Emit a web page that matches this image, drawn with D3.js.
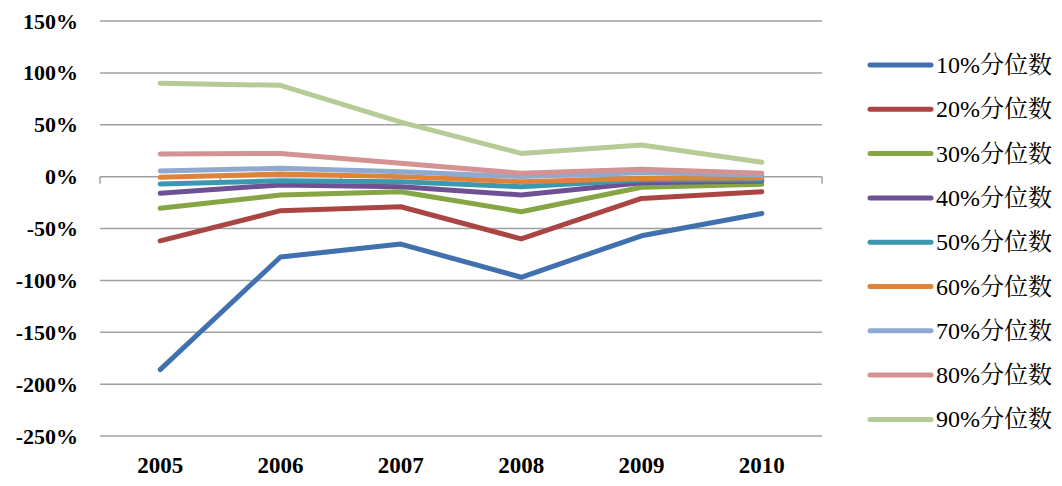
<!DOCTYPE html>
<html><head><meta charset="utf-8">
<script src="https://cdn.jsdelivr.net/npm/d3@7"></script>
<style>body{margin:0;background:#fff}svg{display:block}</style>
</head><body>
<svg id="c" width="1062" height="486"></svg>
<script>
const years = ["2005","2006","2007","2008","2009","2010"];
const seriesNames = ["10%分位数","20%分位数","30%分位数","40%分位数","50%分位数","60%分位数","70%分位数","80%分位数","90%分位数"];
const p10 = [-186, -77.5, -65, -97, -57, -35.5];
const p20 = [-62, -32.8, -29, -60, -21, -14.5];
const p30 = [-30.5, -17.7, -14.5, -33.8, -10.3, -7.4];
const p40 = [-16, -8, -9.7, -17.7, -5.9, -4.2];
const p50 = [-7, -4, -5, -9.7, -3.3, -3];
const p60 = [-0.7, 2.5, 0, -5, -1.7, -1];
const p70 = [5.4, 8, 4.7, 0, 3.8, 1.5];
const p80 = [21.8, 22.4, 12.8, 3.2, 7, 3.2];
const p90 = [90, 88, 52.6, 22.4, 30.5, 13.8];
const yTicks = [150, 100, 50, 0, -50, -100, -150, -200, -250];
const colors = ["#4170AE","#AA4543","#86A544","#6E5193","#3B98AE","#DE8339","#8FA9D1","#D49392","#B5CC96"];
const allSeries = [p10,p20,p30,p40,p50,p60,p70,p80,p90];

const FONT = "'Liberation Serif', 'Noto Serif CJK SC', 'Noto Sans CJK SC'";
const svg = d3.select("#c");
const x = d3.scaleBand().domain(years).range([100, 822]);
const y = d3.scaleLinear().domain([-250, 150]).range([436, 21]);

// gridlines
svg.append("g").selectAll("line").data(yTicks.filter(d => d !== 0)).join("line")
  .attr("x1", 100).attr("x2", 822)
  .attr("y1", d => y(d)).attr("y2", d => y(d))
  .attr("stroke", "#a0a0a0").attr("stroke-width", 1.5);

// y labels
svg.append("g").selectAll("text").data(yTicks).join("text")
  .attr("font-family", FONT)
  .attr("x", 78).attr("y", d => y(d) + 7.5)
  .attr("text-anchor", "end")
  .attr("font-weight", "bold").attr("font-size", 22)
  .text(d => d + "%");

// x axis at 0
const boundaries = years.map(yr => x(yr)).concat([822]);
svg.append("line").attr("x1", 100).attr("x2", 822).attr("y1", y(0)).attr("y2", y(0))
  .attr("stroke", "#a0a0a0").attr("stroke-width", 1.5);
svg.append("g").selectAll("line").data(boundaries).join("line")
  .attr("x1", d => d).attr("x2", d => d)
  .attr("y1", y(0)).attr("y2", y(0) + 7)
  .attr("stroke", "#a0a0a0").attr("stroke-width", 1.5);

// x labels
svg.append("g").selectAll("text").data(years).join("text")
  .attr("font-family", FONT)
  .attr("x", d => x(d) + x.bandwidth() / 2).attr("y", 473)
  .attr("text-anchor", "middle")
  .attr("font-weight", "bold").attr("font-size", 23)
  .text(d => d);

// lines
const line = d3.line()
  .x((d, i) => x(years[i]) + x.bandwidth() / 2)
  .y(d => y(d));
svg.append("g").selectAll("path").data(allSeries).join("path")
  .attr("d", d => line(d))
  .attr("fill", "none")
  .attr("stroke", (d, i) => colors[i])
  .attr("stroke-width", 5)
  .attr("stroke-linecap", "round")
  .attr("stroke-linejoin", "round");

// legend
const lg = svg.append("g").selectAll("g").data(seriesNames).join("g")
  .attr("transform", (d, i) => `translate(0, ${65 + i * 44.3})`);
lg.append("line").attr("x1", 870).attr("x2", 931).attr("y1", 0).attr("y2", 0)
  .attr("stroke", (d, i) => colors[i]).attr("stroke-width", 5).attr("stroke-linecap", "round");
lg.append("text").attr("font-family", FONT).attr("x", 936).attr("y", 8)
  .attr("font-size", 24)
  .text(d => d);
</script>
</body></html>
